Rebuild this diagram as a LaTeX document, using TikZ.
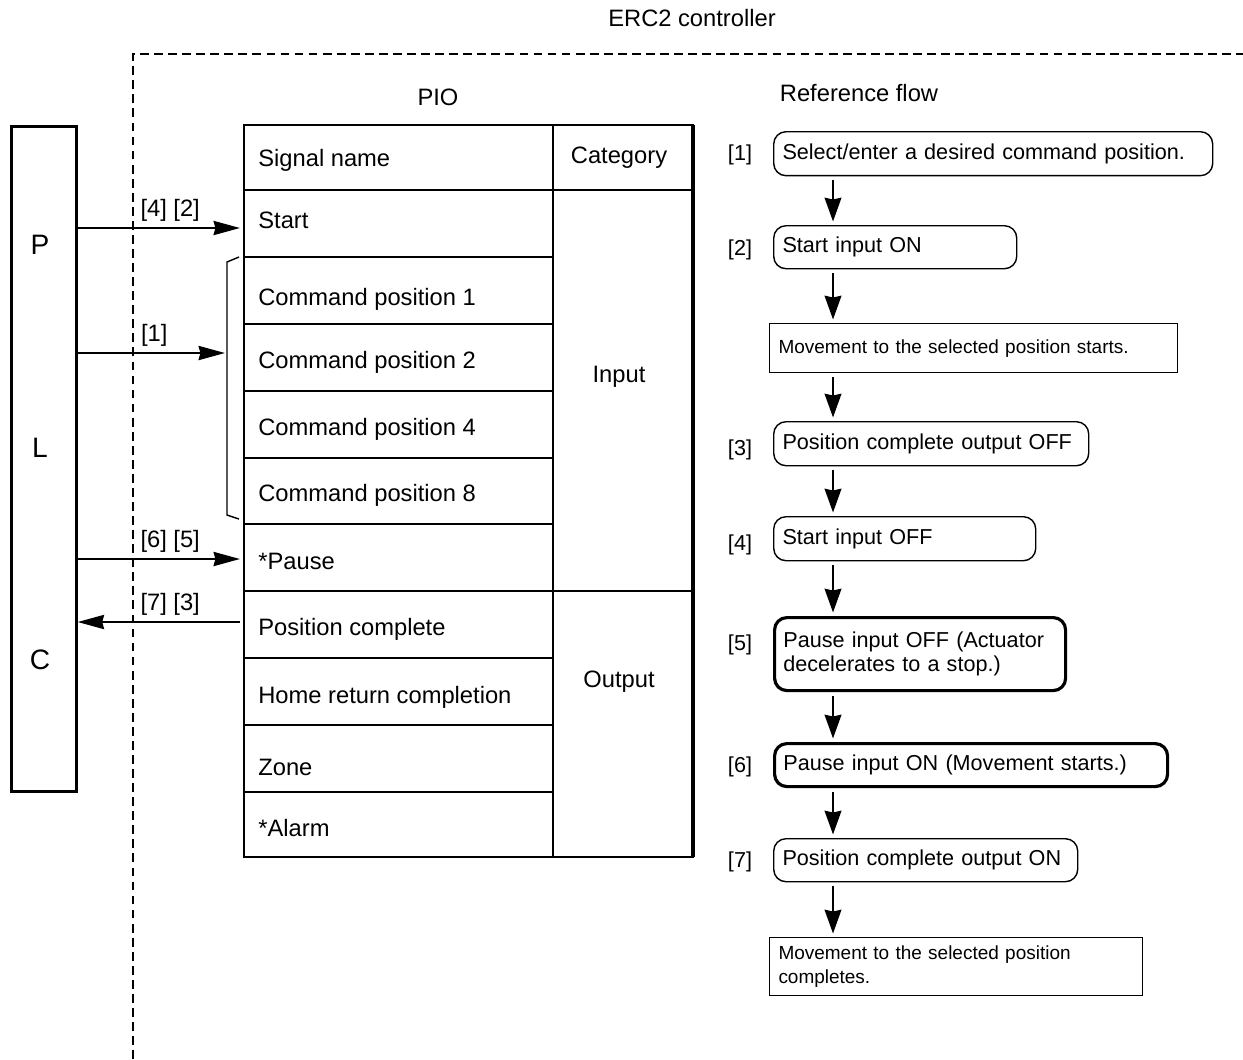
\documentclass[tikz,border=0pt]{standalone}
\usepackage{fontspec}
\setmainfont{Liberation Sans}
\usetikzlibrary{arrows.meta,positioning}
\tikzset{
	sig/.style={-{Stealth[length=15pt,width=8pt,inset=1pt]},line width=1.4pt},
	flw/.style={-{Stealth[length=13.5pt,width=9.5pt,inset=1pt]},line width=1.4pt,shorten <=2pt,shorten >=2pt},
	fbox/.style={draw,rounded corners=7pt,line width=0.8pt,anchor=north west,align=left,inner xsep=5pt,inner ysep=0pt},
	fboxthick/.style={fbox,line width=1.8pt},
	fnote/.style={fbox,rounded corners=0pt,font=\fontsize{10.8}{13.5}\selectfont},
	cell/.style={anchor=base west,inner sep=0pt},
}
\begin{document}
\begin{tikzpicture}[x=0.02cm,y=-0.02cm,font=\fontsize{13.5}{16}\selectfont]
	\useasboundingbox (0,0) rectangle (1243,1059);
	\node (title) at (692,18) {ERC2 controller};
	\draw[line width=1.5pt,dash pattern=on 5pt off 3pt] (133,1059)--(133,54)--(1243,54);
	\node (pio) at (438,97) {PIO};
	\node (ref) at (859,93) {Reference flow};
	\node[draw,line width=1.5pt,minimum width=1.3cm,minimum height=13.3cm,anchor=north west] (plc) at (10,125) {};
	\foreach \x/\y in {P/245,L/448,C/660}{
		\node[font=\fontsize{16}{18}\selectfont] (plc\x) at (40,\y) {\x};
	}
	\draw[line width=1.5pt] (244,125) rectangle (693,857);
	\draw[line width=2pt] (693,125)--(693,857);
	\draw[line width=0.9pt] (553,125)--(553,857) (244,591)--(693,591);
	\draw[line width=1.6pt] (244,190)--(693,190);
	\foreach \y in {257,324,391,458,524,658,725,792}{
		\draw[line width=0.9pt] (244,\y)--(553,\y);
	}
	\foreach \n/\y/\t in {hd/166/Signal name, st/228/Start, c1/305/Command position 1, c2/368/Command position 2,
		c4/435/Command position 4, c8/501/Command position 8, pa/569/*Pause, pc/635/Position complete,
		hr/703/Home return completion, zn/775/Zone, al/836/*Alarm}{
		\node[cell] (\n) at (258,\y) {\t};
	}
	\foreach \n/\y/\t in {cat/163/Category, in/382/Input, out/687/Output}{
		\node[anchor=base,inner sep=0pt] (\n) at (619,\y) {\t};
	}
	\draw[line width=0.8pt] (239,257)--(227,262)--(227,515)--(239,519);
	\path (240,228) coordinate (stin)
		(225,353) coordinate (cmdin)
		(240,559) coordinate (pain)
		(240,622) coordinate (pcout);
	\draw[sig] (plc.east |- stin)--(stin) node[pos=0.57,above] (l42) {[4] [2]};
	\draw[sig] (plc.east |- cmdin)--(cmdin) node[pos=0.52,above] (l1) {[1]};
	\draw[sig] (plc.east |- pain)--(pain) node[pos=0.57,above] (l65) {[6] [5]};
	\draw[sig] (pcout)--(plc.east |- pcout) node[pos=0.43,above] (l73) {[7] [3]};
	\begin{scope}[font=\fontsize{12.3}{14}\selectfont]
		\node[fbox,text width=8.43cm,minimum height=0.88cm] (f1) at (773,131) {Select/enter a desired command position.};
		\node[fbox,text width=4.51cm,minimum height=0.86cm] (f2) at (773,225) {Start input ON};
		\node[fnote,text width=7.81cm,minimum height=0.98cm] (f3) at (769,323) {Movement to the selected position starts.};
		\node[fbox,text width=5.95cm,minimum height=0.88cm] (f4) at (773,421) {Position complete output OFF};
		\node[fbox,text width=4.89cm,minimum height=0.88cm] (f5) at (773,516) {Start input OFF};
		\node[fboxthick,text width=5.47cm,minimum height=1.46cm] (f6) at (773,616) {Pause input OFF (Actuator\\decelerates to a stop.)};
		\node[fboxthick,text width=7.51cm,minimum height=0.86cm] (f7) at (773,742) {Pause input ON (Movement starts.)};
		\node[fbox,text width=5.73cm,minimum height=0.86cm] (f8) at (773,838) {Position complete output ON};
		\node[fnote,text width=7.11cm,minimum height=1.16cm] (f9) at (769,937) {Movement to the selected position\\completes.};
		\foreach \n/\y in {1/155,2/250,3/450,4/545,5/645,6/767,7/862}{
			\node (s\n) at (740,\y) {[\n]};
		}
	\end{scope}
	\coordinate (ax) at (833,0);
	\foreach \a/\b in {f1/f2,f2/f3,f3/f4,f4/f5,f5/f6,f6/f7,f7/f8,f8/f9}{
		\draw[flw] (\a.south -| ax)--(\b.north -| ax);
	}
\end{tikzpicture}
\end{document}
